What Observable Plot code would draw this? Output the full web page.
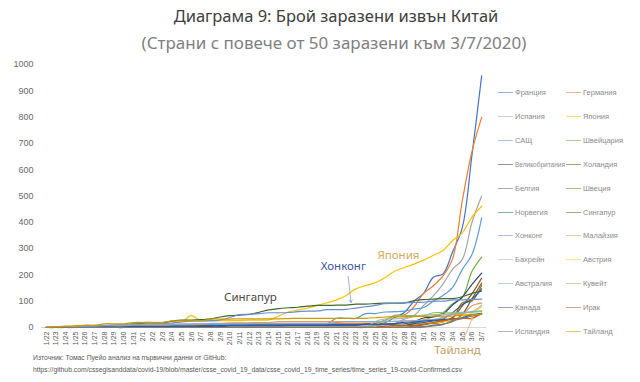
<!DOCTYPE html>
<html><head><meta charset="utf-8">
<script src="https://cdn.jsdelivr.net/npm/d3@7"></script>
<script src="https://cdn.jsdelivr.net/npm/@observablehq/plot@0.6"></script>
<style>
body{margin:0;background:#fff;}
#wrap{position:relative;width:640px;height:382px;overflow:hidden;font-family:"Noto Sans",sans-serif;background:#fff;}
#head{position:relative;height:56px;}
.t1{position:absolute;left:0;width:672px;text-align:center;top:5px;font-size:16.5px;line-height:22px;color:#404040;white-space:nowrap;}
.t2{position:absolute;left:0;width:668px;text-align:center;top:32px;font-size:17px;line-height:22px;color:#7f7f7f;white-space:nowrap;}
#cap{position:absolute;left:33px;top:352px;font-family:"Liberation Sans",Arial,sans-serif;font-size:6.8px;line-height:12px;color:#595959;white-space:nowrap;}
.lg{position:absolute;height:10px;}
.lg i{position:absolute;left:0;top:4px;width:15px;height:0;border-top:1.5px solid;opacity:0.55;}
.lg span{position:absolute;left:17px;top:0;font-family:"Liberation Sans",Arial,sans-serif;font-size:7.5px;line-height:10px;color:#8c8c8c;white-space:nowrap;}
</style></head>
<body>
<div id="wrap">
  <div id="head">
    <div class="t1">Диаграма 9: Брой заразени извън Китай</div>
    <div class="t2">(Страни с повече от 50 заразени към 3/7/2020)</div>
  </div>
  <div id="chart"></div>
  <div id="cap">Източник: Томас Пуейо анализ на първични данни от GitHub:<br>https://github.com/cssegisanddata/covid-19/blob/master/csse_covid_19_data/csse_covid_19_time_series/time_series_19-covid-Confirmed.csv</div>
</div>
<script>
const dates = ["1/22","1/23","1/24","1/25","1/26","1/27","1/28","1/29","1/30","1/31",
"2/1","2/2","2/3","2/4","2/5","2/6","2/7","2/8","2/9","2/10","2/11","2/12","2/13","2/14","2/15","2/16","2/17","2/18","2/19","2/20","2/21","2/22","2/23","2/24","2/25","2/26","2/27","2/28","2/29",
"3/1","3/2","3/3","3/4","3/5","3/6","3/7"];

const names = ["Франция","Германия","Испания","Япония","САЩ","Швейцария","Великобритания","Холандия","Белгия","Швеция","Норвегия","Сингапур","Хонконг","Малайзия","Бахрейн","Австрия","Австралия","Кувейт","Канада","Ирак","Исландия","Тайланд"];
const colors = ["#4472C4","#ED7D31","#A5A5A5","#FFC000","#5B9BD5","#70AD47","#264478","#9E480E","#636363","#997300","#255E91","#43682B","#698ED0","#F1975A","#B7B7B7","#FFCD33","#7CAFDD","#8CC168","#335AA1","#C65911","#7C7C7C","#CC9A00"];

const france = [0,0,2,3,3,3,4,5,5,5,
6,6,6,6,6,6,6,11,11,11,11,11,11,11,12,12,12,12,12,12,12,12,12,12,14,18,38,57,100,
130,191,204,288,380,656,957];
const germany = [0,0,0,0,0,1,4,4,4,5,
8,10,12,12,12,12,13,13,14,14,16,16,16,16,16,16,16,16,16,16,16,16,16,16,17,27,46,48,79,
130,159,196,262,482,670,799];
const spain = [0,0,0,0,0,0,0,0,0,0,
1,1,1,1,1,1,1,1,2,2,2,2,2,2,2,2,2,2,2,2,2,2,2,2,6,13,15,32,45,
84,120,165,222,259,400,500];
const japan = [2,2,2,2,4,4,7,7,11,15,
20,20,20,22,22,45,25,25,26,26,26,28,28,29,43,59,66,74,84,94,105,122,147,159,170,189,214,228,241,
256,274,293,331,360,420,461];
const usa = [1,1,2,2,5,5,5,5,5,7,
8,8,11,11,11,11,11,11,11,11,12,12,14,14,14,14,14,14,14,14,35,35,35,53,53,59,60,62,70,
76,100,122,153,221,278,417];
const switzerland = [0,0,0,0,0,0,0,0,0,0,
0,0,0,0,0,0,0,0,0,0,0,0,0,0,0,0,0,0,0,0,0,0,0,0,1,1,8,8,18,
27,42,56,90,114,214,268];
const uk = [0,0,0,0,0,0,0,0,0,2,
2,2,2,2,2,2,3,3,3,8,8,9,9,9,9,9,9,9,9,9,9,9,9,13,13,13,15,20,23,
36,40,51,86,116,164,207];
const netherlands = [0,0,0,0,0,0,0,0,0,0,
0,0,0,0,0,0,0,0,0,0,0,0,0,0,0,0,0,0,0,0,0,0,0,0,0,0,1,1,6,
10,18,24,38,82,128,188];
const belgium = [0,0,0,0,0,0,0,0,0,0,
0,0,0,1,1,1,1,1,1,1,1,1,1,1,1,1,1,1,1,1,1,1,1,1,1,1,1,1,1,
2,8,13,23,50,109,169];
const sweden = [0,0,0,0,0,0,0,0,0,1,
1,1,1,1,1,1,1,1,1,1,1,1,1,1,1,1,1,1,1,1,1,1,1,1,1,2,7,7,12,
14,15,21,35,94,101,161];
const norway = [0,0,0,0,0,0,0,0,0,0,
0,0,0,0,0,0,0,0,0,0,0,0,0,0,0,0,0,0,0,0,0,0,0,0,0,1,1,6,15,
19,25,32,56,87,108,147];
const singapore = [0,1,3,3,4,5,7,7,10,13,
16,18,18,24,28,28,30,33,40,45,47,50,58,67,72,75,77,81,84,84,85,85,89,89,91,93,93,93,102,
106,108,110,110,117,130,138];
const hongkong = [0,2,2,5,8,8,8,10,10,12,
13,15,15,17,21,24,25,26,29,38,49,50,53,56,56,57,60,62,63,68,68,69,74,79,84,91,92,94,95,
96,100,100,105,105,107,108];
const malaysia = [0,0,0,3,4,4,4,7,8,8,
8,8,8,10,12,12,12,16,16,18,18,18,19,19,22,22,22,22,22,22,22,22,22,22,22,22,23,23,25,
29,29,36,50,50,83,93];
const bahrain = [0,0,0,0,0,0,0,0,0,0,
0,0,0,0,0,0,0,0,0,0,0,0,0,0,0,0,0,0,0,0,0,0,0,1,23,33,33,36,41,
47,49,49,52,55,60,85];
const austria = [0,0,0,0,0,0,0,0,0,0,
0,0,0,0,0,0,0,0,0,0,0,0,0,0,0,0,0,0,0,0,0,0,0,0,2,2,3,3,9,
14,18,21,29,41,55,79];
const australia = [0,0,0,0,4,5,5,6,9,9,
12,12,12,13,13,14,15,15,15,15,15,15,15,15,15,15,15,15,15,15,19,22,22,22,22,23,23,25,26,
27,30,39,52,55,60,63];
const kuwait = [0,0,0,0,0,0,0,0,0,0,
0,0,0,0,0,0,0,0,0,0,0,0,0,0,0,0,0,0,0,0,0,0,0,1,11,26,43,45,45,
45,56,56,56,58,58,61];
const canada = [0,0,0,0,1,1,2,2,2,4,
4,4,4,5,5,5,7,7,7,7,7,7,7,7,7,8,8,8,8,8,9,9,9,10,11,11,13,14,20,
24,27,30,33,37,49,54];
const iraq = [0,0,0,0,0,0,0,0,0,0,
0,0,0,0,0,0,0,0,0,0,0,0,0,0,0,0,0,0,0,0,0,0,0,1,1,5,6,7,8,
13,19,26,32,35,35,54];
const iceland = [0,0,0,0,0,0,0,0,0,0,
0,0,0,0,0,0,0,0,0,0,0,0,0,0,0,0,0,0,0,0,0,0,0,0,0,0,0,1,1,
3,6,11,26,34,43,50];
const thailand = [2,3,5,7,8,8,14,14,14,19,
19,19,19,25,25,25,25,32,32,32,33,33,33,33,33,34,35,35,35,35,35,35,35,35,37,40,40,41,42,
42,43,43,43,47,48,50];

const series = [france,germany,spain,japan,usa,switzerland,uk,netherlands,belgium,sweden,norway,singapore,hongkong,malaysia,bahrain,austria,australia,kuwait,canada,iraq,iceland,thailand];
const bad = series.map((s,i)=>[names[i],s.length]).filter(d=>d[1]!==dates.length);
if (bad.length) throw new Error("bad lengths: " + JSON.stringify(bad));

const yTicks = [0,100,200,300,400,500,600,700,800,900,1000];

const annotations = [
  {label:"Сингапур", x:21.1, y:114, color:"#4a4a4a"},
  {label:"Хонконг", x:30.7, y:232, color:"#3f56a6"},
  {label:"Япония", x:36.4, y:274, color:"#d4aa5a"},
  {label:"Тайланд", x:42.5, y:-87, color:"#c9a064"}
];
const arrows = [
  {x1:31.2, y1:194, x2:31.5, y2:95, color:"#7f9fd8"},
  {x1:43.1, y1:-49, x2:44.05, y2:38, color:"#d4b07a"}
];

const data = names.flatMap((n,i)=>series[i].map((v,j)=>({name:n, day:j, value:v})));

const plot = Plot.plot({
  width:640, height:294,
  marginTop:8, marginBottom:23, marginLeft:41, marginRight:154,
  style:{fontFamily:"Liberation Sans, Arial, sans-serif", overflow:"visible", background:"transparent"},
  x:{domain:[-0.5,45.5], axis:null},
  y:{domain:[0,1000], axis:null},
  color:{domain:names, range:colors},
  marks:[
    Plot.ruleY([0], {stroke:"#d9d9d9", strokeWidth:1}),
    Plot.axisY(yTicks, {tickSize:0, tickPadding:8, fontSize:9, color:"#6a6a6a", label:null, tickFormat:d=>String(d)}),
    Plot.axisX(d3.range(dates.length), {tickSize:0, tickPadding:4, tickRotate:-90, fontSize:7, color:"#595959", tickFormat:i=>dates[i], label:null}),
    Plot.line(data, {x:"day", y:"value", z:"name", stroke:"name", strokeWidth:1.2, curve:"catmull-rom"}),
    ...annotations.map(a=>Plot.text([a], {x:"x", y:"y", text:"label", fill:a.color, fontSize:11.5, fontFamily:"Noto Sans, sans-serif"})),
    ...arrows.map(a=>Plot.arrow([a], {x1:"x1", y1:"y1", x2:"x2", y2:"y2", stroke:a.color, strokeWidth:0.8, headLength:5}))
  ]
});
document.getElementById("chart").appendChild(plot);

const wrap = document.getElementById("wrap");
names.forEach((n,i)=>{
  const col = i%2, row = Math.floor(i/2);
  const d = document.createElement("div");
  d.className = "lg";
  d.style.left = (col ? 566 : 498) + "px";
  d.style.top = (88 + row*23.9) + "px";
  const ln = document.createElement("i");
  ln.style.borderColor = colors[i];
  const tx = document.createElement("span");
  tx.textContent = n;
  if (n.length > 10) tx.style.fontSize = "6.5px";
  d.appendChild(ln); d.appendChild(tx);
  wrap.appendChild(d);
});
</script>
</body></html>
